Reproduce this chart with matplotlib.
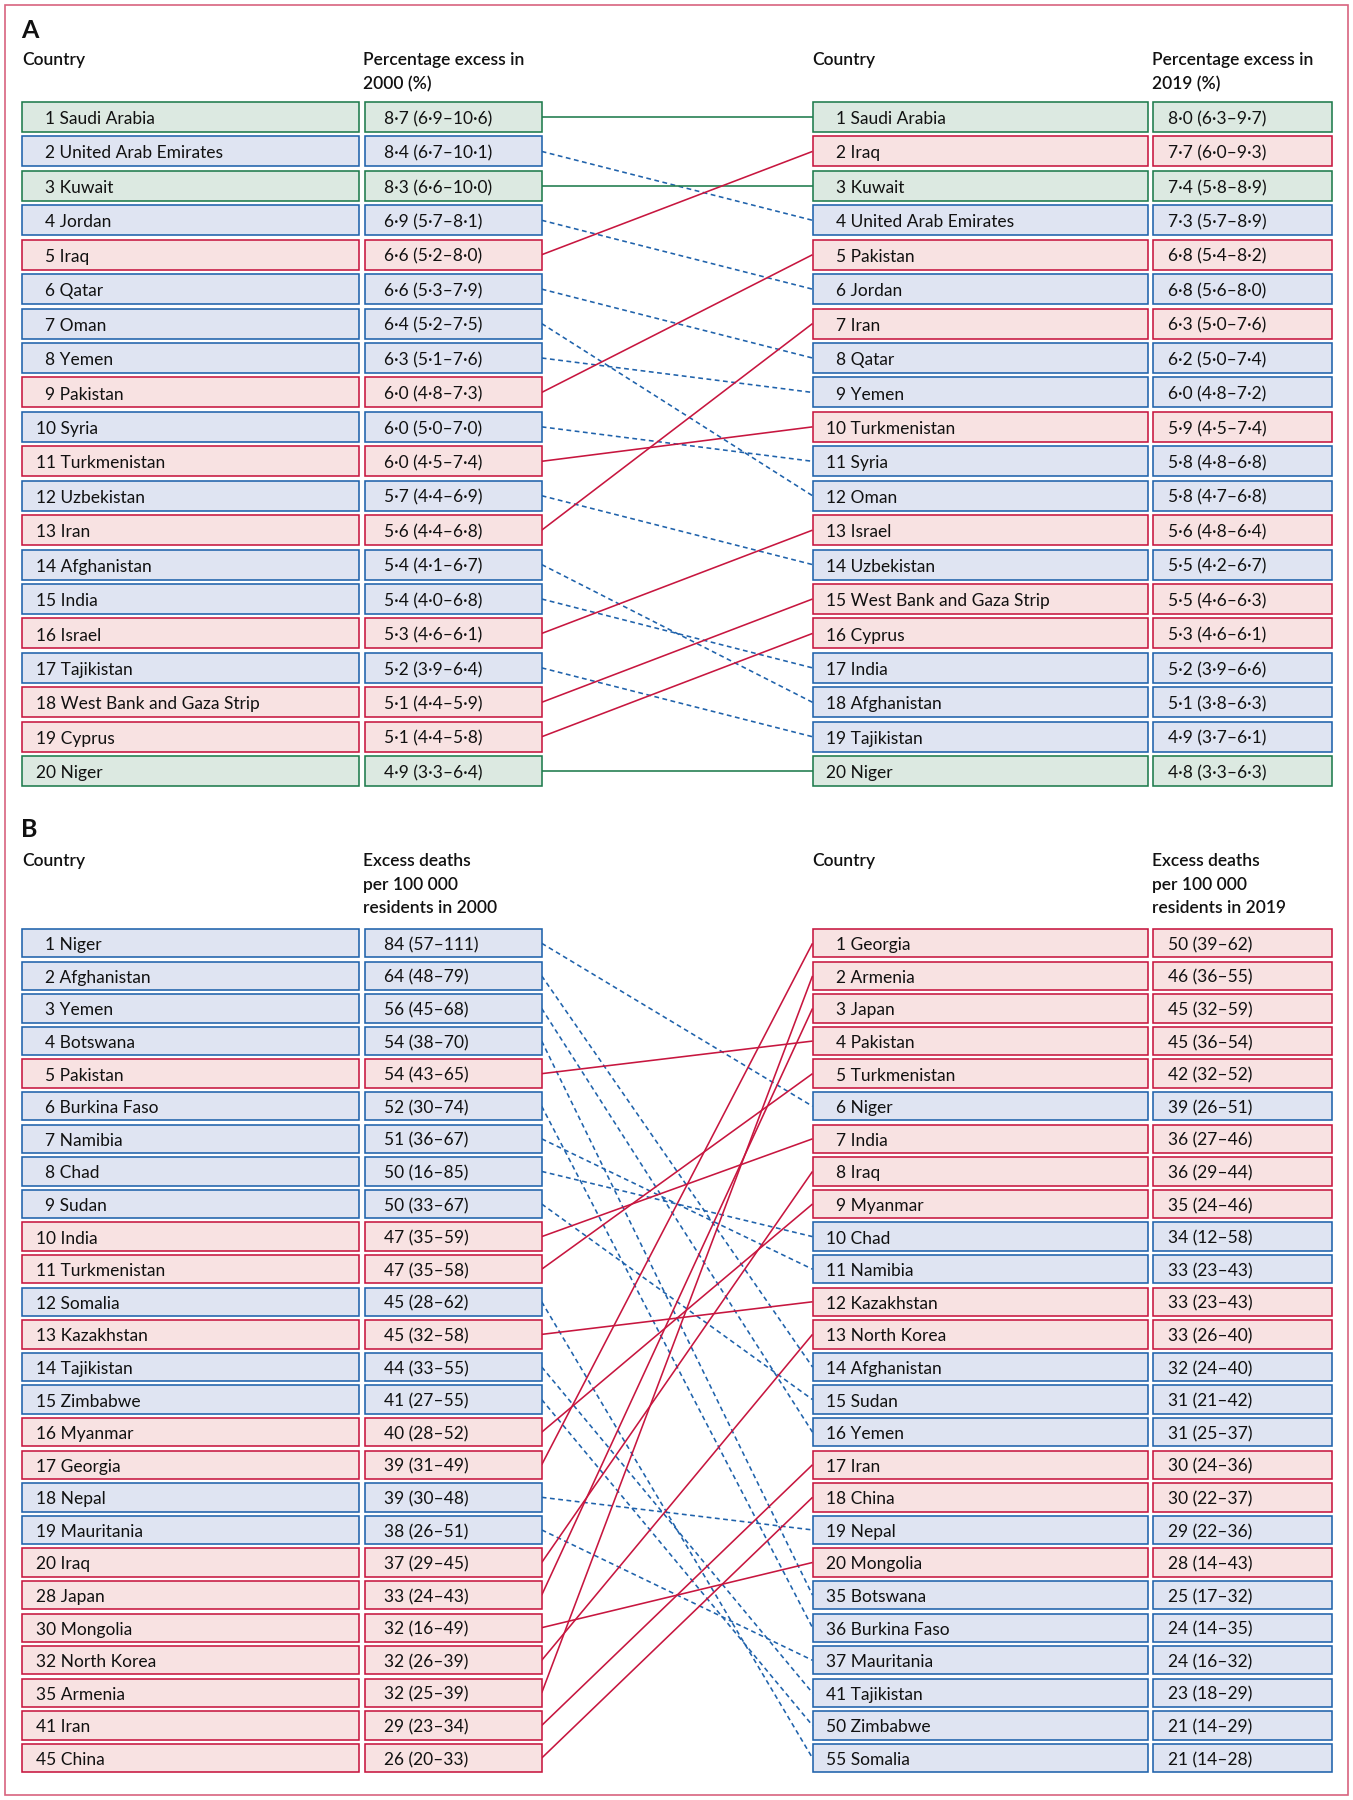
import matplotlib
matplotlib.use("Agg")
import matplotlib.pyplot as plt
from matplotlib.patches import Rectangle

plt.rcParams['font.family'] = ['Lato', 'DejaVu Sans']

# ---------------- Panel A data ----------------
a_countries_2000 = ["Saudi Arabia", "United Arab Emirates", "Kuwait", "Jordan", "Iraq",
                    "Qatar", "Oman", "Yemen", "Pakistan", "Syria", "Turkmenistan",
                    "Uzbekistan", "Iran", "Afghanistan", "India", "Israel", "Tajikistan",
                    "West Bank and Gaza Strip", "Cyprus", "Niger"]
a_ranks_2000 = list(range(1, 21))
a_values_2000 = ["8·7 (6·9–10·6)", "8·4 (6·7–10·1)", "8·3 (6·6–10·0)", "6·9 (5·7–8·1)",
                 "6·6 (5·2–8·0)", "6·6 (5·3–7·9)", "6·4 (5·2–7·5)", "6·3 (5·1–7·6)",
                 "6·0 (4·8–7·3)", "6·0 (5·0–7·0)", "6·0 (4·5–7·4)", "5·7 (4·4–6·9)",
                 "5·6 (4·4–6·8)", "5·4 (4·1–6·7)", "5·4 (4·0–6·8)", "5·3 (4·6–6·1)",
                 "5·2 (3·9–6·4)", "5·1 (4·4–5·9)", "5·1 (4·4–5·8)", "4·9 (3·3–6·4)"]
a_countries_2019 = ["Saudi Arabia", "Iraq", "Kuwait", "United Arab Emirates", "Pakistan",
                    "Jordan", "Iran", "Qatar", "Yemen", "Turkmenistan", "Syria", "Oman",
                    "Israel", "Uzbekistan", "West Bank and Gaza Strip", "Cyprus", "India",
                    "Afghanistan", "Tajikistan", "Niger"]
a_ranks_2019 = list(range(1, 21))
a_values_2019 = ["8·0 (6·3–9·7)", "7·7 (6·0–9·3)", "7·4 (5·8–8·9)", "7·3 (5·7–8·9)",
                 "6·8 (5·4–8·2)", "6·8 (5·6–8·0)", "6·3 (5·0–7·6)", "6·2 (5·0–7·4)",
                 "6·0 (4·8–7·2)", "5·9 (4·5–7·4)", "5·8 (4·8–6·8)", "5·8 (4·7–6·8)",
                 "5·6 (4·8–6·4)", "5·5 (4·2–6·7)", "5·5 (4·6–6·3)", "5·3 (4·6–6·1)",
                 "5·2 (3·9–6·6)", "5·1 (3·8–6·3)", "4·9 (3·7–6·1)", "4·8 (3·3–6·3)"]

# ---------------- Panel B data ----------------
b_countries_2000 = ["Niger", "Afghanistan", "Yemen", "Botswana", "Pakistan", "Burkina Faso",
                    "Namibia", "Chad", "Sudan", "India", "Turkmenistan", "Somalia",
                    "Kazakhstan", "Tajikistan", "Zimbabwe", "Myanmar", "Georgia", "Nepal",
                    "Mauritania", "Iraq", "Japan", "Mongolia", "North Korea", "Armenia",
                    "Iran", "China"]
b_ranks_2000 = list(range(1, 21)) + [28, 30, 32, 35, 41, 45]
b_values_2000 = ["84 (57–111)", "64 (48–79)", "56 (45–68)", "54 (38–70)", "54 (43–65)",
                 "52 (30–74)", "51 (36–67)", "50 (16–85)", "50 (33–67)", "47 (35–59)",
                 "47 (35–58)", "45 (28–62)", "45 (32–58)", "44 (33–55)", "41 (27–55)",
                 "40 (28–52)", "39 (31–49)", "39 (30–48)", "38 (26–51)", "37 (29–45)",
                 "33 (24–43)", "32 (16–49)", "32 (26–39)", "32 (25–39)", "29 (23–34)",
                 "26 (20–33)"]
b_countries_2019 = ["Georgia", "Armenia", "Japan", "Pakistan", "Turkmenistan", "Niger",
                    "India", "Iraq", "Myanmar", "Chad", "Namibia", "Kazakhstan",
                    "North Korea", "Afghanistan", "Sudan", "Yemen", "Iran", "China", "Nepal",
                    "Mongolia", "Botswana", "Burkina Faso", "Mauritania", "Tajikistan",
                    "Zimbabwe", "Somalia"]
b_ranks_2019 = list(range(1, 21)) + [35, 36, 37, 41, 50, 55]
b_values_2019 = ["50 (39–62)", "46 (36–55)", "45 (32–59)", "45 (36–54)", "42 (32–52)",
                 "39 (26–51)", "36 (27–46)", "36 (29–44)", "35 (24–46)", "34 (12–58)",
                 "33 (23–43)", "33 (23–43)", "33 (26–40)", "32 (24–40)", "31 (21–42)",
                 "31 (25–37)", "30 (24–36)", "30 (22–37)", "29 (22–36)", "28 (14–43)",
                 "25 (17–32)", "24 (14–35)", "24 (16–32)", "23 (18–29)", "21 (14–29)",
                 "21 (14–28)"]

# ---------------- styles ----------------
STYLE = {
    "up":   dict(edge="#c7163f", fill="#f8e2e2", ls="-"),
    "down": dict(edge="#1f62ab", fill="#dfe4f2", ls=(0, (3.0, 2.2))),
    "same": dict(edge="#1e7b4c", fill="#dce9e1", ls="-"),
}
TXT = "#111111"
FS = 12.5

W, H = 1353, 1800
fig = plt.figure(figsize=(W / 100, H / 100), dpi=100)

# x layout (pixels)
XL_C0, XL_C1 = 21.8, 359.2
XL_V0, XL_V1 = 365.0, 541.7
XR_C0, XR_C1 = 812.5, 1147.6
XR_V0, XR_V1 = 1153.4, 1332.4
BOX_H = 0.87


def status(r0, r1):
    if r1 < r0:
        return "up"
    if r1 > r0:
        return "down"
    return "same"


def panel(top_px, pitch, c0, r0, v0, c1, r1, v1):
    n = len(c0)
    y_top = top_px - pitch / 2
    y_bot = top_px + (n - 1) * pitch + pitch / 2
    ax = fig.add_axes([0, 1 - y_bot / H, 1, (y_bot - y_top) / H])
    ax.set_xlim(0, W)
    ax.set_ylim(n - 0.5, -0.5)
    ax.axis("off")
    rank0 = dict(zip(c0, r0))
    rank1 = dict(zip(c1, r1))
    pos1 = {c: i for i, c in enumerate(c1)}
    # connecting lines
    for i, c in enumerate(c0):
        st = STYLE[status(rank0[c], rank1[c])]
        j = pos1[c]
        ax.plot([XL_V1, XR_C0], [i, j], color=st["edge"], lw=1.15, ls=st["ls"],
                zorder=1, solid_capstyle="butt")

    def column(names, ranks, vals, x_c0, x_c1, x_v0, x_v1, vpad):
        for i, (c, rk, v) in enumerate(zip(names, ranks, vals)):
            st = STYLE[status(rank0[c], rank1[c])]
            for xa, xb in ((x_c0, x_c1), (x_v0, x_v1)):
                ax.add_patch(Rectangle((xa, i - BOX_H / 2), xb - xa, BOX_H,
                                       facecolor=st["fill"], edgecolor=st["edge"],
                                       lw=1.15, zorder=2))
            indent = 13.8 + (9.7 if rk < 10 else 0)
            ax.text(x_c0 + indent, i + 0.06, f"{rk} {c}", fontsize=FS, color=TXT,
                    va="center", ha="left", zorder=3)
            ax.text(x_v0 + vpad, i + 0.06, v, fontsize=FS, color=TXT,
                    va="center", ha="left", zorder=3)

    column(c0, r0, v0, XL_C0, XL_C1, XL_V0, XL_V1, 19)
    column(c1, r1, v1, XR_C0, XR_C1, XR_V0, XR_V1, 15)
    return ax


panel(117.0, 34.43, a_countries_2000, a_ranks_2000, a_values_2000,
      a_countries_2019, a_ranks_2019, a_values_2019)
panel(943.3, 32.59, b_countries_2000, b_ranks_2000, b_values_2000,
      b_countries_2019, b_ranks_2019, b_values_2019)

# ---------------- text / frame layer ----------------
axt = fig.add_axes([0, 0, 1, 1], zorder=-1)
axt.set_xlim(0, W)
axt.set_ylim(H, 0)
axt.axis("off")
axt.add_patch(Rectangle((4.6, 4.6), W - 9.2, H - 9.2, facecolor="white",
                        edgecolor="#d8647f", lw=1.2))

HFS = 12.5
HW = "semibold"
hd = dict(fontsize=HFS, color=TXT, va="center", ha="left", fontweight=HW)
axt.text(21.0, 31, "A", fontsize=18, color=TXT, va="center", ha="left", fontweight="bold")
axt.text(21.8, 60, "Country", **hd)
axt.text(363, 60, "Percentage excess in", **hd)
axt.text(363, 84, "2000 (%)", **hd)
axt.text(812.5, 60, "Country", **hd)
axt.text(1152, 60, "Percentage excess in", **hd)
axt.text(1152, 84, "2019 (%)", **hd)

axt.text(21.0, 829.5, "B", fontsize=18, color=TXT, va="center", ha="left", fontweight="bold")
axt.text(21.8, 861, "Country", **hd)
for k, s in enumerate(["Excess deaths", "per 100 000", "residents in 2000"]):
    axt.text(363, 861 + 23.6 * k, s, **hd)
axt.text(812.5, 861, "Country", **hd)
for k, s in enumerate(["Excess deaths", "per 100 000", "residents in 2019"]):
    axt.text(1152, 861 + 23.6 * k, s, **hd)

fig.savefig("out.png", dpi=100, facecolor="white")
